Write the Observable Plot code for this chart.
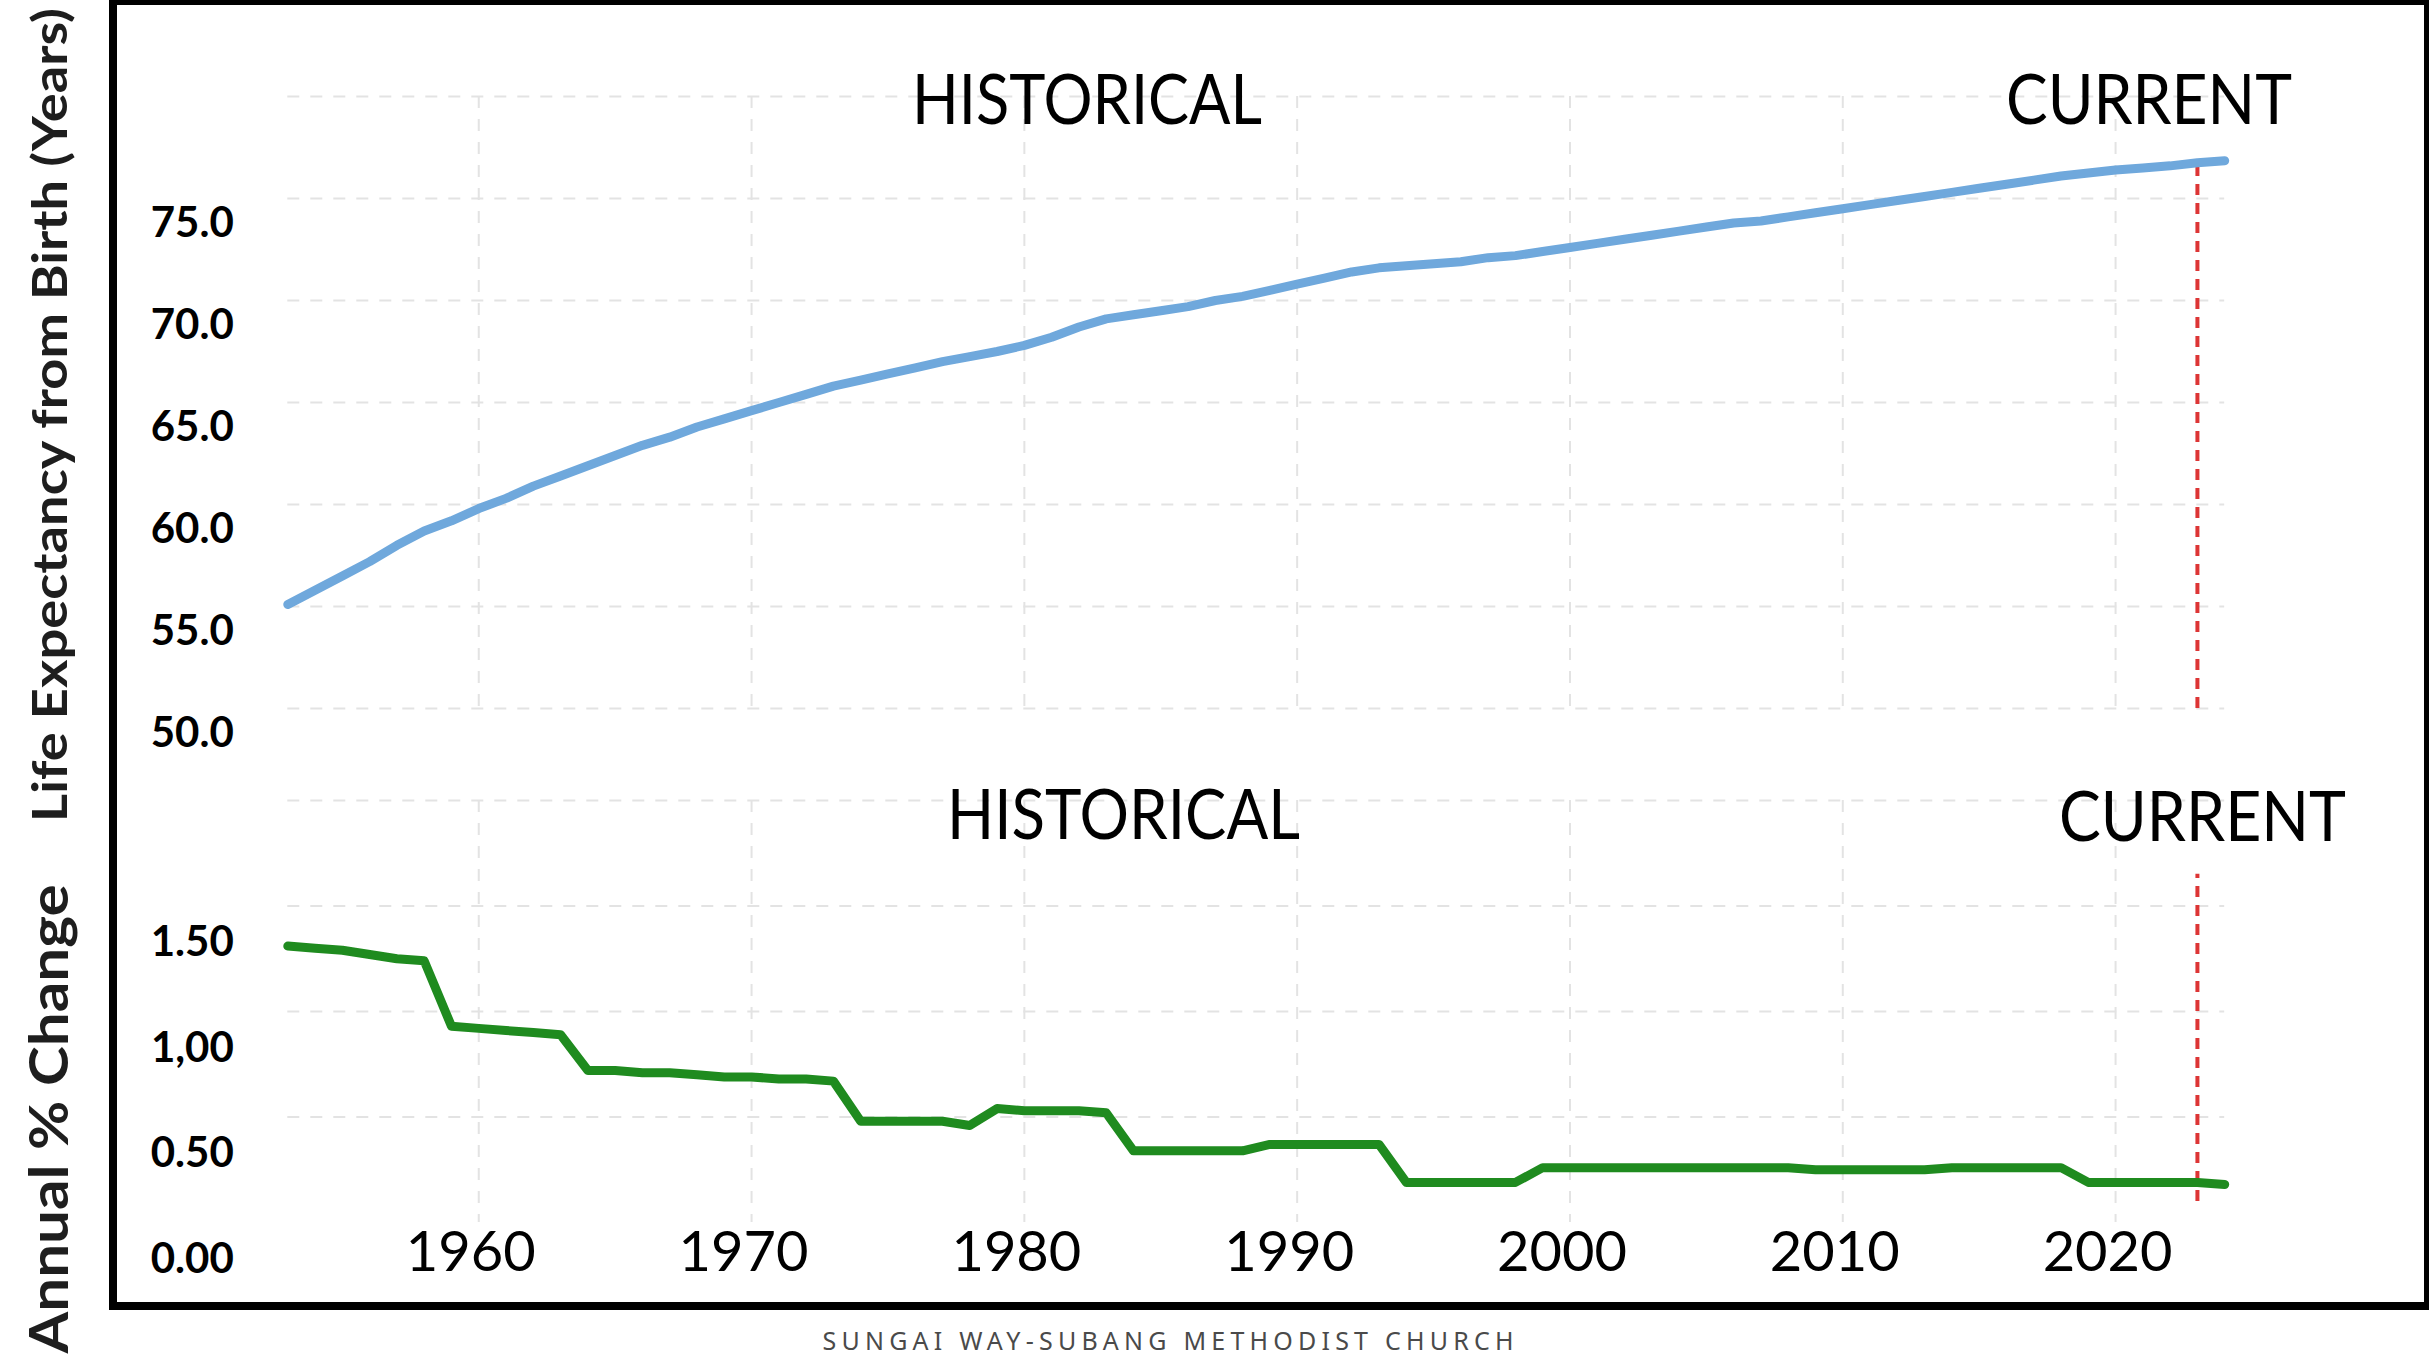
<!DOCTYPE html>
<html>
<head>
<meta charset="utf-8">
<script src="https://cdn.jsdelivr.net/npm/d3@7"></script>
<script src="https://cdn.jsdelivr.net/npm/@observablehq/plot@0.6"></script>
<style>
  html, body { margin: 0; padding: 0; background: #fff; overflow: hidden; }
  #wrap { position: relative; width: 2433px; height: 1369px; background: #fff; }
  #frame { position: absolute; left: 109px; top: 0px; width: 2320px; height: 1310px;
           box-sizing: border-box; border-style: solid; border-color: #000;
           border-width: 5px 5px 8px 8px; }
  .panel { position: absolute; left: 0; }
  #overlay { position: absolute; left: 0; top: 0; pointer-events: none; }
</style>
</head>
<body>
<div id="wrap">
  <div id="frame"></div>
</div>
<script>
// ---------------- data ----------------
const years = [1953,1954,1955,1956,1957,1958,1959,1960,1961,1962,1963,1964,1965,1966,1967,1968,1969,1970,
  1971,1972,1973,1974,1975,1976,1977,1978,1979,1980,1981,1982,1983,1984,1985,1986,1987,1988,1989,1990,
  1991,1992,1993,1994,1995,1996,1997,1998,1999,2000,2001,2002,2003,2004,2005,2006,2007,2008,2009,2010,
  2011,2012,2013,2014,2015,2016,2017,2018,2019,2020,2021,2022,2023,2024];

const lifeExpectancy = [55.1,55.8,56.5,57.2,58.0,58.7,59.2,59.8,60.3,60.9,61.4,61.9,62.4,62.9,63.3,63.8,64.2,64.6,
  65.0,65.4,65.8,66.1,66.4,66.7,67.0,67.25,67.5,67.8,68.2,68.7,69.1,69.3,69.5,69.7,70.0,70.2,70.5,70.8,
  71.1,71.4,71.6,71.7,71.8,71.9,72.1,72.2,72.4,72.6,72.8,73.0,73.2,73.4,73.6,73.8,73.9,74.1,74.3,74.5,
  74.7,74.9,75.1,75.3,75.5,75.7,75.9,76.1,76.25,76.4,76.5,76.6,76.75,76.85];

const annualChange = [1.31,1.30,1.29,1.27,1.25,1.24,0.93,0.92,0.91,0.90,0.89,0.72,0.72,0.71,0.71,0.70,0.69,0.69,
  0.68,0.68,0.67,0.48,0.48,0.48,0.48,0.46,0.54,0.53,0.53,0.53,0.52,0.34,0.34,0.34,0.34,0.34,0.37,0.37,
  0.37,0.37,0.37,0.19,0.19,0.19,0.19,0.19,0.26,0.26,0.26,0.26,0.26,0.26,0.26,0.26,0.26,0.26,0.25,0.25,
  0.25,0.25,0.25,0.26,0.26,0.26,0.26,0.26,0.19,0.19,0.19,0.19,0.19,0.18];

const yearTicks = [1960,1970,1980,1990,2000,2010,2020];
const lifeTicks = [50,55,60,65,70,75];
const lifeGrid = [50,55,60,65,70,75,80];
const changeTicks = [0,0.5,1,1.5];
const changeTickLabels = ["0.00","0.50","1,00","1.50"];
const changeGrid = [0.5,1,1.5,2];
const currentYear = 2023;
const changeMarkerRange = [0.1, 1.65];

const titles = ["Life Expectancy from Birth (Years)", "Annual % Change"];
const annotations = ["HISTORICAL", "CURRENT"];
const caption = "SUNGAI WAY-SUBANG METHODIST CHURCH";

// ---------------- tables ----------------
const lifeTable = years.map((year, i) => ({year, value: lifeExpectancy[i]}));
const changeTable = years.map((year, i) => ({year, value: annualChange[i]}));
const lifeNow = lifeTable.find(d => d.year === currentYear).value;

// ---------------- styles ----------------
const W = 2433;
const FONT = "Lato, 'Open Sans', sans-serif";
const gridStyle = {stroke: "#e3e3e3", strokeOpacity: 1, strokeWidth: 2, strokeDasharray: "12,11"};
const redStyle = {stroke: "#dd3535", strokeWidth: 4, strokeDasharray: "11,8"};
const xDomain = [1953, 2024];
const mLeft = 287.3, mRight = 208.8;

// ---------------- upper panel ----------------
const upper = Plot.plot({
  width: W, height: 760,
  marginLeft: mLeft, marginRight: mRight, marginTop: 96, marginBottom: 52,
  x: {domain: xDomain, axis: null},
  y: {domain: [50, 80]},
  style: {background: "transparent", overflow: "visible", fontFamily: FONT},
  marks: [
    Plot.gridY(lifeGrid, gridStyle),
    Plot.gridX(yearTicks, gridStyle),
    Plot.axisY(lifeTicks, {anchor: "left", tickSize: 0, tickPadding: 54, dy: 25,
      tickFormat: d => d.toFixed(1), fontSize: 42, fontWeight: "bold", fill: "#000", label: null}),
    Plot.ruleX([currentYear], {y1: 50, y2: lifeNow, ...redStyle}),
    Plot.lineY(lifeTable, {x: "year", y: "value", stroke: "#6fa8dc", strokeWidth: 9})
  ]
});
upper.classList.add("panel");
upper.style.top = "0px";
document.getElementById("wrap").appendChild(upper);

// ---------------- lower panel ----------------
const lower = Plot.plot({
  width: W, height: 540,
  marginLeft: mLeft, marginRight: mRight, marginTop: 40, marginBottom: 78,
  x: {domain: xDomain},
  y: {domain: [0, 2]},
  style: {background: "transparent", overflow: "visible", fontFamily: FONT},
  marks: [
    Plot.gridY(changeGrid, gridStyle),
    Plot.gridX(yearTicks, gridStyle),
    Plot.axisY(changeTicks, {anchor: "left", tickSize: 0, tickPadding: 54, dy: 37,
      tickFormat: d => changeTickLabels[changeTicks.indexOf(d)], fontSize: 42, fontWeight: "bold", fill: "#000", label: null}),
    Plot.axisX(yearTicks, {anchor: "bottom", tickSize: 0, tickPadding: 9, dx: -8,
      tickFormat: d => String(d), fontSize: 56, fill: "#000", label: null}),
    Plot.ruleX([currentYear], {y1: changeMarkerRange[0], y2: changeMarkerRange[1], ...redStyle}),
    Plot.lineY(changeTable, {x: "year", y: "value", stroke: "#1f8b1f", strokeWidth: 9})
  ]
});
lower.classList.add("panel");
lower.style.top = "760px";
document.getElementById("wrap").appendChild(lower);

// ---------------- titles, annotations, caption ----------------
const svg = d3.select("#wrap").append("svg")
  .attr("id", "overlay").attr("width", W).attr("height", 1369)
  .style("font-family", FONT);

const yTitles = [
  {text: titles[0], x: 48, y: 415, size: 48, len: 814},
  {text: titles[1], x: 47, y: 1119, size: 54, len: 469}
];
svg.selectAll("text.ytitle").data(yTitles).join("text")
  .attr("class", "ytitle")
  .attr("transform", d => `translate(${d.x},${d.y}) rotate(-90)`)
  .attr("text-anchor", "middle")
  .attr("dominant-baseline", "central")
  .attr("font-weight", "bold")
  .attr("font-size", d => d.size)
  .attr("textLength", d => d.len)
  .attr("lengthAdjust", "spacingAndGlyphs")
  .attr("fill", "#1e1e1e")
  .text(d => d.text);

const notes = [
  {text: annotations[0], x: 912, y: 124, len: 350},
  {text: annotations[1], x: 2006, y: 124, len: 286},
  {text: annotations[0], x: 947, y: 839, len: 353},
  {text: annotations[1], x: 2059, y: 841, len: 287}
];
svg.selectAll("text.note").data(notes).join("text")
  .attr("class", "note")
  .attr("x", d => d.x).attr("y", d => d.y)
  .attr("font-size", 70)
  .attr("textLength", d => d.len)
  .attr("lengthAdjust", "spacingAndGlyphs")
  .attr("fill", "#000")
  .text(d => d.text);

svg.append("text")
  .attr("x", 1168).attr("y", 1350)
  .attr("text-anchor", "middle")
  .attr("font-family", "'Noto Sans', sans-serif")
  .attr("font-size", 25)
  .attr("textLength", 691)
  .attr("lengthAdjust", "spacing")
  .attr("fill", "#4a4a4a")
  .text(caption);
</script>
</body>
</html>
